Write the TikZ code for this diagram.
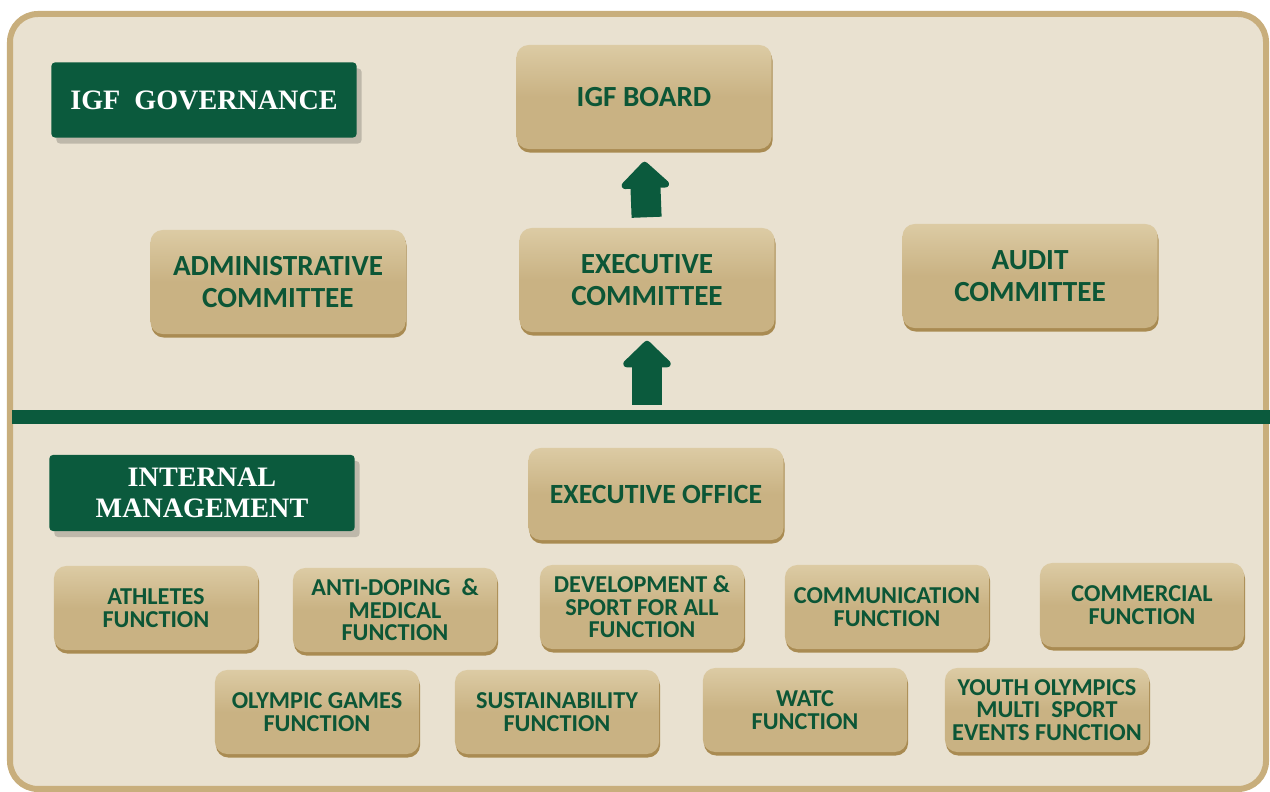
\documentclass[tikz,border=0pt]{standalone}
\usepackage{fontspec}
\setmainfont{Liberation Serif}
\newfontfamily\boxfont{Carlito}
\usetikzlibrary{shadows}
\usetikzlibrary{arrows.meta}

\definecolor{igfgreen}{HTML}{0B5A3D}
\definecolor{bgbeige}{HTML}{E9E1D0}
\definecolor{frametan}{HTML}{C8AE7C}
\definecolor{tanlight}{HTML}{DCCBA4}
\definecolor{tanmid}{HTML}{C9B283}
\definecolor{tandark}{HTML}{A98B52}
\definecolor{textgreen}{HTML}{0C5636}

\begin{document}
\begin{tikzpicture}[x=0.01cm, y=-0.01cm,
		greenbox/.style={fill=igfgreen, rounded corners=1pt, inner sep=0pt, align=center,
			text=white, font=\bfseries\fontsize{8}{9}\selectfont,
			drop shadow={shadow xshift=0.05cm, shadow yshift=-0.06cm, opacity=0.18, fill=black}},
		tanbox/.style={top color=tanlight, bottom color=tanmid, middle color=tanmid,
			rounded corners=3.5pt, inner sep=0pt, align=center, text=textgreen,
			drop shadow={shadow xshift=0.01cm, shadow yshift=-0.035cm, opacity=1, fill=tandark}},
		bigbox/.style={tanbox, minimum width=2.55cm, minimum height=1.04cm,
			font=\boxfont\bfseries\fontsize{8.3}{9.1}\selectfont},
		fnbox/.style={tanbox, minimum width=2.04cm, minimum height=0.84cm,
			font=\boxfont\bfseries\fontsize{6.9}{6.4}\selectfont},
		uparrow/.style={igfgreen, line width=0.3cm, -{Triangle[length=0.28cm, width=0.56cm, round]}}]

	\useasboundingbox (0, 0) rectangle (1270, 792);
	\draw[line width=0.06cm, draw=frametan, fill=bgbeige, rounded corners=0.28cm] (10, 14) rectangle (1266, 789);

	\node[greenbox, minimum width=3.05cm, minimum height=0.75cm] (gov) at (204, 100) {IGF\ \ GOVERNANCE};
	\node[bigbox] (board) at (644, 97) {IGF BOARD};
	\node[bigbox] (admin) at (278, 282) {ADMINISTRATIVE\\COMMITTEE};
	\node[bigbox] (excom) at (647, 280) {EXECUTIVE\\COMMITTEE};
	\node[bigbox] (audit) at (1030, 276) {AUDIT\\COMMITTEE};

	\draw[igfgreen, line width=0.14cm] (12, 417)--(1270, 417);
	\coordinate (lineup) at (647, 410);

	\draw[uparrow, shorten <=0.1cm, shorten >=0.12cm] (excom.north)--(board.south);
	\draw[uparrow, shorten <=0.05cm, shorten >=0.08cm] (lineup)--(excom.south);

	\node[greenbox, minimum width=3.05cm, minimum height=0.76cm] (intmgmt) at (202, 493) {INTERNAL\\MANAGEMENT};
	\node[bigbox, minimum height=0.92cm, font=\boxfont\bfseries\fontsize{7.9}{9}\selectfont] (exoffice) at (656, 494) {EXECUTIVE OFFICE};

	\node[fnbox] (athletes) at (156, 608) {ATHLETES\\FUNCTION};
	\node[fnbox] (antidoping) at (395, 610) {ANTI-DOPING\ \ \&\\MEDICAL\\FUNCTION};
	\node[fnbox] (development) at (642, 607) {DEVELOPMENT \&\\SPORT FOR ALL\\FUNCTION};
	\node[fnbox] (communication) at (887, 607) {COMMUNICATION\\FUNCTION};
	\node[fnbox] (commercial) at (1142, 605) {COMMERCIAL\\FUNCTION};

	\node[fnbox] (olympic) at (317, 712) {OLYMPIC GAMES\\FUNCTION};
	\node[fnbox] (sustain) at (557, 712) {SUSTAINABILITY\\FUNCTION};
	\node[fnbox] (watc) at (805, 710) {WATC\\FUNCTION};
	\node[fnbox] (youth) at (1047, 710) {YOUTH OLYMPICS\\MULTI\ \ SPORT\\EVENTS FUNCTION};
\end{tikzpicture}
\end{document}
